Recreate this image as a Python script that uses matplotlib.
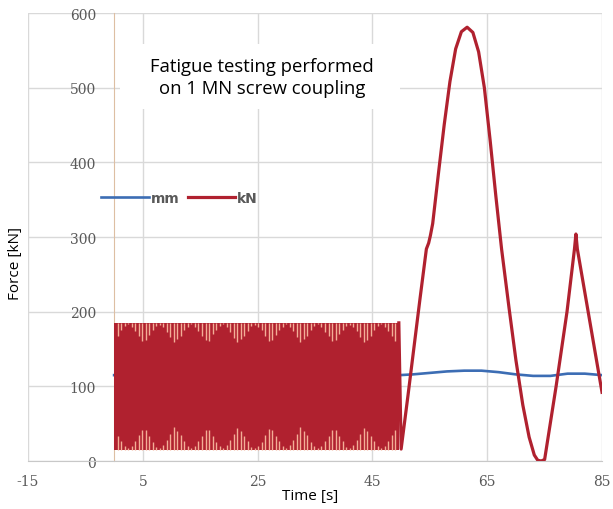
import numpy as np
import matplotlib
matplotlib.use('Agg')
import matplotlib.pyplot as plt
from matplotlib.patches import Rectangle

plt.rcParams['axes.unicode_minus'] = False

# --- data ---
# fatigue cycling block (0 .. 49.6 s): band limits and aliasing stripes
osc_start, osc_end = 0.0, 49.6
osc_peak, osc_valley = 185, 15
osc_top_notch = [168, 175, 181, 183, 180, 174, 167, 161, 162,
                 169, 176, 181, 182, 179, 173, 166, 160, 163,
                 168, 175, 180, 183, 180, 174, 167, 162, 161,
                 170, 176, 181, 183, 179, 173, 165, 160, 163,
                 168, 174, 181, 182, 180, 175, 167, 161, 162,
                 169, 175, 180, 183, 179, 174, 166, 160, 163,
                 168, 176, 181, 183, 180, 173, 167, 161, 162,
                 170, 175, 181, 182, 179, 174, 166, 160, 162,
                 168, 175, 181, 183, 180, 174, 167, 161]
osc_bottom_notch = [34, 27, 20, 17, 20, 27, 35, 42, 41,
                    33, 26, 19, 17, 21, 28, 36, 45, 40,
                    35, 27, 20, 18, 20, 27, 34, 42, 42,
                    33, 26, 20, 17, 21, 28, 36, 44, 40,
                    34, 27, 19, 17, 20, 26, 35, 43, 41,
                    33, 27, 20, 18, 21, 28, 36, 45, 40,
                    35, 26, 20, 17, 20, 27, 34, 42, 41,
                    34, 27, 19, 17, 21, 28, 36, 44, 40,
                    34, 27, 20, 17, 20, 27, 35, 42]

# load ramp after the cycling block (kN)
tail_t = [49.6, 50.0, 51.2, 52.2, 53.3, 54.4, 54.8, 55.1, 55.5, 56.5, 57.5, 58.5,
          59.5, 60.5, 61.5, 62.5, 63.5, 64.5, 65.5, 66.5, 67.5, 68.8, 70.0, 71.2,
          72.3, 73.2, 73.8, 74.4, 75.0, 77.0, 78.9, 80.2, 80.45, 80.7, 85.0]
tail_kn = [185, 16, 88, 150, 218, 284, 292, 302, 318, 385, 450, 508,
           552, 575, 581, 574, 548, 500, 430, 355, 284, 205, 135, 75,
           32, 8, 1, 0, 2, 100, 200, 284, 304, 284, 92]

# displacement (mm)
mm_t = [0, 10, 20, 30, 40, 49.7, 52, 55, 58, 61, 64, 67, 70, 73, 76, 79, 82, 85]
mm_val = [115, 115, 115, 115, 115, 115, 116, 118, 120, 121, 121, 119, 116, 114,
          114, 117, 117, 115]

xticks = [-15, 5, 25, 45, 65, 85]
yticks = [0, 100, 200, 300, 400, 500, 600]

red = '#B0212F'
blue = '#3C6DB4'

fig = plt.figure(figsize=(6.13, 5.10), dpi=100)
ax = fig.add_axes([0.0457, 0.0941, 0.9364, 0.8784])

ax.set_xlim(-15, 85)
ax.set_ylim(0, 600)
ax.set_xticks(xticks)
ax.set_yticks(yticks)
ax.grid(True, color='#D9D9D9', lw=1.0, zorder=0)
ax.set_axisbelow(True)

for s in ['top', 'right']:
    ax.spines[s].set_visible(False)
ax.spines['bottom'].set_color('#C8C8C8')
ax.spines['left'].set_position(('data', 0))
ax.spines['left'].set_color('#DDBFA3')

ax.tick_params(length=0)
ax.tick_params(axis='y', pad=13)
ax.tick_params(axis='x', pad=9)
for lab in ax.get_xticklabels() + ax.get_yticklabels():
    lab.set_fontfamily('DejaVu Serif')
    lab.set_fontsize(10)
    lab.set_color('#595959')

# mm series
ax.plot(mm_t, mm_val, color=blue, lw=1.9, label='mm', zorder=3)

# kN series: cycling block + ramp
n = len(osc_top_notch)
edges = np.linspace(osc_start, osc_end, 2)
ax.fill_between(edges, osc_valley, osc_peak, color=red, lw=0, zorder=4)
stripe_t = np.linspace(osc_start, osc_end, n + 2)[1:-1]
ax.vlines(stripe_t, osc_top_notch, osc_peak, color='#F3AE96', lw=1.0, zorder=5)
ax.vlines(stripe_t, osc_valley, osc_bottom_notch, color='#F3AE96', lw=1.0, zorder=5)
ax.plot(tail_t, tail_kn, color=red, lw=2.3, label='kN', zorder=6,
        solid_joinstyle='round')

leg = ax.legend(loc='center left', bbox_to_anchor=(0.118, 0.587), ncol=2,
                frameon=False, handlelength=3.4, handletextpad=0.15,
                columnspacing=0.6, borderaxespad=0,
                prop={'family': 'DejaVu Sans', 'size': 10, 'weight': 'bold'})
for t in leg.get_texts():
    t.set_color('#595959')

# annotation box
ax.add_patch(Rectangle((0.160, 0.786), 0.488, 0.145, transform=ax.transAxes,
                       facecolor='white', edgecolor='none', zorder=2))
ax.text(0.408, 0.857, 'Fatigue testing performed\non 1 MN screw coupling',
        transform=ax.transAxes, ha='center', va='center', fontsize=13.3,
        family='Open Sans', linespacing=1.3, zorder=7)

fig.text(0.025, 0.484, 'Force [kN]', rotation=90, ha='center', va='center',
         fontsize=11, family='Open Sans')
fig.text(0.506, 0.026, 'Time [s]', ha='center', va='center',
         fontsize=11, family='Open Sans')

fig.savefig('out.png', dpi=100)
